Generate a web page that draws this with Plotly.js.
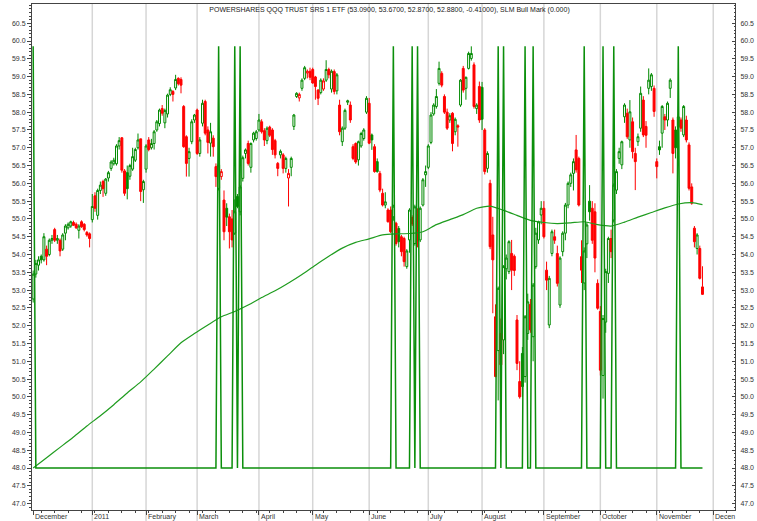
<!DOCTYPE html>
<html><head><meta charset="utf-8">
<script src="https://cdn.plot.ly/plotly-3.0.1.min.js"></script>
<style>html,body{margin:0;padding:0;background:#fff}#chart{width:757px;height:521px}</style>
</head><body><div id="chart"></div>
<script>
// Trading-day OHLC, Dec 1 2010 .. Nov 25 2011 (index = trading day)
const openP = [
// Dec 2010
52.75,53.45,53.70,53.95,53.85,54.15,54.00,54.40,54.70,54.40,54.40,54.15,54.60,54.75,54.80,54.90,54.85,54.68,54.92,54.85,54.62,54.58,
// Jan
54.98,55.65,55.10,55.80,56.05,55.72,56.15,56.42,56.55,56.55,57.05,57.28,56.35,56.30,56.20,56.40,56.65,57.00,57.25,55.82,
// Feb
56.40,57.22,57.00,57.12,57.50,57.68,58.10,57.70,57.95,58.50,58.58,58.68,58.95,58.92,58.16,57.31,56.70,57.17,57.78,
// Mar
58.06,56.84,57.69,58.30,57.50,57.13,57.27,56.47,55.86,56.19,55.53,55.30,55.06,55.00,54.60,55.63,55.20,56.14,56.84,57.12,56.45,57.22,57.26,
// Apr
57.50,57.73,57.48,57.20,57.58,57.50,57.20,56.56,56.80,56.80,56.42,56.15,56.45,57.60,58.44,58.40,58.67,58.95,59.10,59.15,
// May
59.20,58.99,58.62,58.55,58.65,58.90,59.20,58.65,59.14,58.60,58.20,57.17,57.55,58.28,58.20,57.03,57.12,56.66,57.05,57.26,58.00,
// Jun
58.25,57.36,57.03,56.61,56.28,55.72,55.39,55.25,55.25,55.06,54.88,54.73,54.50,54.45,53.66,54.41,55.04,54.31,55.16,54.41,55.39,56.24,
// Jul
56.45,57.15,57.95,58.16,58.81,59.09,58.44,58.00,57.78,57.97,57.45,57.62,58.20,59.23,58.67,59.23,59.51,59.33,58.10,58.72,
// Aug
58.70,57.50,56.42,56.00,54.55,52.25,51.30,51.78,51.60,53.60,53.52,54.03,53.95,52.16,50.43,51.22,50.57,51.78,52.60,51.69,53.66,54.41,55.11,
// Sep
55.30,53.56,52.02,54.03,54.50,54.03,52.58,54.08,54.60,55.39,56.00,56.28,56.94,56.70,53.94,53.20,54.30,55.50,55.30,55.20,53.19,
// Oct
52.40,50.60,52.10,53.47,54.45,54.97,55.81,56.70,56.52,57.87,57.97,57.22,57.73,56.84,57.17,57.55,58.34,57.60,58.67,58.72,58.67,
// Nov
56.61,57.03,57.41,57.87,57.78,58.67,57.78,57.50,57.59,57.78,57.36,57.78,57.08,55.90,54.74,54.17,54.17,53.09
];
const highP = [
53.55,53.85,53.95,54.00,54.60,54.25,54.45,54.55,54.75,54.55,54.45,54.60,54.85,54.90,54.95,54.95,54.90,54.85,54.96,54.88,54.66,54.62,
55.70,55.75,55.85,56.05,56.10,56.15,56.35,56.65,56.72,57.10,57.30,57.30,56.40,56.50,56.55,57.00,57.00,57.40,57.25,56.10,
57.10,57.30,57.25,57.50,57.78,58.10,58.20,58.10,58.52,58.70,58.62,59.05,58.98,58.98,58.20,57.35,57.00,57.80,57.95,
58.10,57.30,58.35,58.35,57.60,57.70,57.35,56.56,56.60,56.40,55.80,55.44,55.15,55.25,55.55,55.70,55.95,56.78,56.98,57.20,57.15,57.45,57.50,
57.95,57.80,57.55,57.60,57.62,57.55,57.25,56.60,56.95,56.85,56.75,56.40,56.75,57.95,58.56,58.55,58.95,59.30,59.20,59.25,
59.25,59.02,58.65,58.95,58.95,59.46,59.25,59.20,59.20,59.10,58.35,57.60,58.10,58.35,58.30,57.10,57.15,57.20,57.45,57.55,58.45,
58.40,57.40,57.10,56.70,56.35,55.85,55.75,55.30,55.35,55.40,54.92,54.80,54.55,54.50,54.15,55.30,55.10,55.40,55.30,55.35,56.15,56.50,
57.10,58.00,58.25,58.65,59.42,59.15,58.50,58.10,57.97,58.00,57.85,57.66,58.93,59.30,59.00,59.70,59.85,59.40,58.25,58.86,
58.85,57.55,56.90,56.10,55.06,52.60,53.10,52.20,53.70,54.00,54.40,54.41,54.00,52.30,51.00,51.40,52.30,52.90,52.75,53.20,54.75,54.95,55.50,
55.50,53.80,53.40,54.70,54.70,54.25,53.95,54.65,55.45,56.05,56.30,56.70,57.36,56.75,54.40,54.20,54.90,55.95,55.50,55.44,53.30,
52.55,52.30,53.60,54.50,54.70,56.00,56.40,57.00,57.20,58.25,58.10,58.34,57.85,57.00,57.40,58.72,58.45,57.75,59.23,59.10,58.75,
56.70,57.20,58.20,57.95,58.30,58.95,57.85,57.60,57.95,57.85,58.20,57.90,57.15,56.00,54.80,54.60,54.25,53.67
];
const lowP = [
52.65,53.35,53.55,53.75,53.80,53.70,53.95,54.30,54.35,54.30,53.95,54.10,54.40,54.70,54.75,54.80,54.72,54.45,54.75,54.65,54.50,54.20,
54.90,55.20,54.98,55.70,55.62,55.65,56.05,56.35,56.50,56.50,56.95,56.30,55.65,55.55,56.10,56.35,56.60,56.95,55.50,55.45,
56.30,56.90,56.95,56.95,57.45,57.60,57.90,57.55,57.85,58.45,58.30,58.62,58.75,58.53,57.00,56.19,56.19,57.10,57.70,
56.80,56.75,57.60,57.35,56.84,56.75,56.75,55.90,55.80,56.10,54.40,54.80,54.17,54.20,54.55,55.30,55.10,56.05,56.70,56.50,56.30,57.15,57.20,
57.45,57.40,57.05,57.10,57.30,56.80,56.70,56.20,56.70,56.28,56.30,55.35,56.20,57.50,58.40,58.30,58.60,58.90,58.95,58.90,
58.80,58.35,58.20,58.50,58.60,58.85,58.95,58.55,58.50,58.50,57.35,57.05,57.50,58.20,57.70,56.65,56.55,56.50,57.00,57.20,57.95,
57.10,56.94,56.30,56.30,55.75,55.35,55.30,54.90,54.60,54.95,54.25,54.20,53.95,53.66,53.60,54.05,54.80,54.25,54.20,54.35,55.35,55.90,
56.40,57.10,57.90,58.10,58.75,58.70,57.95,57.50,57.70,56.90,57.35,57.03,58.15,58.55,58.35,59.20,59.45,58.10,57.95,57.70,
57.50,56.25,56.30,54.15,52.35,50.55,49.90,50.70,51.20,53.30,53.45,53.00,53.40,50.75,49.95,50.00,50.40,51.60,51.80,51.00,53.60,54.30,54.85,
54.45,53.00,51.93,53.95,54.30,53.10,52.50,53.95,54.40,55.30,55.90,55.80,56.30,55.35,53.20,53.00,53.90,54.95,54.30,53.50,52.45,
50.60,49.95,51.80,53.20,53.90,54.90,55.70,56.55,56.40,57.70,57.25,57.00,56.70,55.81,57.05,57.45,57.30,57.00,58.50,58.60,57.87,
56.14,56.80,57.00,57.50,57.60,58.40,56.28,56.70,57.50,57.45,57.30,57.15,55.80,55.40,54.20,54.00,53.30,52.87
];
const closeP = [
53.45,53.75,53.85,53.85,54.50,53.95,54.40,54.45,54.40,54.45,54.10,54.55,54.80,54.85,54.92,54.82,54.75,54.80,54.78,54.70,54.55,54.45,
55.35,55.30,55.80,55.95,55.85,56.12,56.30,56.60,56.65,57.05,57.20,56.37,55.72,55.85,56.50,56.75,56.95,57.22,55.77,56.05,
57.05,56.95,57.12,57.45,57.73,58.06,57.97,58.05,58.48,58.63,58.50,58.92,58.80,58.76,57.03,56.56,56.89,57.73,57.92,
56.84,57.22,58.25,57.41,57.15,57.45,57.03,56.19,56.52,56.33,54.64,55.05,54.64,54.41,55.20,55.35,55.90,56.72,56.94,56.56,57.12,57.41,57.45,
57.78,57.45,57.22,57.55,57.35,56.95,56.80,56.42,56.90,56.42,56.70,56.28,56.70,57.92,58.53,58.50,58.90,59.25,59.15,58.98,
58.82,58.72,58.39,58.90,58.88,59.20,59.05,59.15,58.58,59.05,57.45,57.55,58.05,58.32,57.78,56.70,56.60,57.17,57.40,57.50,58.39,
57.13,57.22,56.33,56.33,55.81,55.39,55.48,54.92,54.64,55.36,54.31,54.36,54.08,53.80,54.10,55.25,54.86,55.34,54.41,55.30,56.10,56.33,
57.05,57.92,58.20,58.44,59.23,58.76,58.00,57.55,57.90,57.12,57.80,57.58,58.90,58.62,58.98,59.65,59.65,58.16,58.20,57.78,
57.80,56.33,56.84,54.22,53.85,50.57,53.05,50.90,53.66,53.90,54.36,53.56,53.55,50.94,50.00,50.29,52.25,52.67,51.88,53.14,54.60,54.92,55.30,
54.50,53.28,53.33,54.64,54.40,53.19,53.90,54.60,55.39,56.00,56.24,56.61,56.38,55.39,53.56,54.10,54.83,55.20,54.40,53.90,52.49,
50.75,52.20,53.52,54.45,54.08,55.95,56.33,56.89,57.17,58.20,57.31,58.01,56.89,56.61,57.31,58.53,57.36,57.35,58.90,59.05,58.02,
56.47,56.94,58.16,57.78,58.25,58.90,56.84,57.00,57.87,57.55,58.16,57.22,55.86,55.44,54.36,54.55,53.33,52.88
];

// long moving average, read every 5 trading days
const maIdx = [0,5,10,15,20,25,30,35,40,45,50,55,60,65,70,75,80,85,90,95,100,105,110,115,120,125,130,135,140,145,150,155,160,165,170,175,180,185,190,195,200,205,210,215,220,225,230,235,240,245,249];
const maVal = [48.00,48.29,48.58,48.87,49.18,49.47,49.78,50.11,50.42,50.78,51.15,51.52,51.78,52.02,52.25,52.40,52.58,52.79,52.98,53.20,53.44,53.70,53.95,54.18,54.34,54.44,54.55,54.58,54.59,54.64,54.84,54.98,55.12,55.30,55.36,55.24,55.10,54.96,54.90,54.87,54.89,54.92,54.84,54.80,54.91,55.05,55.18,55.31,55.42,55.46,55.40];

// SLM Bull Mark signal (turning points)
const sigIdx = [0,1,68,69,70,74,75,76,77,78,133,134,135,140,141,142,143,144,172,173,174,175,176,182,183,184,185,186,187,204,205,206,211,212,213,215,216,217,239,240,241,249];
const sigVal = [59.85,48,48,59.85,48,48,59.85,48,59.85,48,48,59.85,48,48,59.85,48,59.85,48,48,59.85,48,59.85,48,48,59.85,48,48,59.85,48,48,59.85,48,48,59.85,48,48,59.85,48,48,59.85,48,48];

// month axis
const monthIdx = [0,22,42,61,84,104,125,147,167,190,211,232,253];
const monthLabels = ["December","2011","February","March","April","May","June","July","August","September","October","November","Decen"];
const yTicks = [47.0,47.5,48.0,48.5,49.0,49.5,50.0,50.5,51.0,51.5,52.0,52.5,53.0,53.5,54.0,54.5,55.0,55.5,56.0,56.5,57.0,57.5,58.0,58.5,59.0,59.5,60.0,60.5];

const titleText = "POWERSHARES QQQ TRUST SRS 1 ETF (53.0900, 53.6700, 52.8700, 52.8800, -0.41000), SLM Bull Mark (0.000)";

const GREEN = '#008a00', RED = '#ff0000';
const FONT = 'Liberation Sans, Arial, sans-serif';

function pick(pred) {
  const ix = [];
  for (let i = 0; i < closeP.length; i++) if (pred(i)) ix.push(i);
  return ix;
}
const prevC = i => (i === 0 ? openP[0] : closeP[i - 1]);
function candle(ix, color, hollow) {
  const style = {line: {color: color, width: 1}, fillcolor: hollow ? '#ffffff' : color};
  return {
    type: 'candlestick', x: ix,
    open: ix.map(i => openP[i]), high: ix.map(i => highP[i]),
    low: ix.map(i => lowP[i]), close: ix.map(i => closeP[i]),
    increasing: style, decreasing: style, whiskerwidth: 0,
    hoverinfo: 'skip', showlegend: false
  };
}
const traces = [
  candle(pick(i => closeP[i] >= openP[i] && closeP[i] >= prevC(i)), GREEN, true),
  candle(pick(i => closeP[i] < openP[i] && closeP[i] >= prevC(i)), GREEN, false),
  candle(pick(i => closeP[i] >= openP[i] && closeP[i] < prevC(i)), RED, true),
  candle(pick(i => closeP[i] < openP[i] && closeP[i] < prevC(i)), RED, false),
  {type: 'scatter', mode: 'lines', x: maIdx, y: maVal, yaxis: 'y2', line: {color: '#1f9c1f', width: 1.2, shape: 'spline', smoothing: 0.6},
   hoverinfo: 'skip', showlegend: false},
  {type: 'scatter', mode: 'lines', x: sigIdx, y: sigVal, yaxis: 'y2',
   line: {color: '#0b8f0b', width: 1.5}, hoverinfo: 'skip', showlegend: false}
];

const yRange = [46.82, 61.04];
const shapes = monthIdx.slice(1).map(m => ({
  type: 'line', layer: 'below', xref: 'x', yref: 'paper', x0: m, x1: m, y0: -0.04, y1: 1,
  line: {color: '#d6d6d6', width: 1.5}
}));
const annotations = monthIdx.map((m, k) => ({
  x: m, xref: 'x', y: 0, yref: 'paper', xanchor: 'left', yanchor: 'top',
  text: monthLabels[k], showarrow: false, yshift: -1, xshift: 0,
  font: {family: FONT, size: 7, color: '#333'}
}));

const axisFont = {family: FONT, size: 7, color: '#333'};
const layout = {
  width: 757, height: 521,
  margin: {l: 32, r: 22, t: 4, b: 11, pad: 0},
  paper_bgcolor: '#ffffff', plot_bgcolor: '#ffffff',
  showlegend: false, boxgap: 0.15, boxgroupgap: 0.15,
  title: {text: titleText, font: {family: FONT, size: 7, color: '#222'},
          x: 0.5086, xanchor: 'center', y: 1 - 10 / 521, yanchor: 'middle', xref: 'paper', yref: 'container'},
  xaxis: {range: [-0.43, 261.1], showgrid: false, zeroline: false,
          showline: true, linecolor: '#444', linewidth: 1, mirror: true,
          tickmode: 'array', tickvals: monthIdx, showticklabels: false,
          ticks: 'outside', ticklen: 4, tickcolor: '#444',
          minor: {ticks: 'outside', ticklen: 2, tickcolor: '#444', dtick: 5, tick0: 3, showgrid: false},
          rangeslider: {visible: false}, fixedrange: true},
  yaxis: {range: yRange, tickmode: 'array', tickvals: yTicks, ticktext: yTicks.map(v => v.toFixed(1)),
          ticks: 'outside', ticklen: 4, tickcolor: '#444', showline: true, linecolor: '#444',
          showgrid: false, zeroline: false, tickfont: axisFont, fixedrange: true,
          minor: {ticks: 'outside', ticklen: 2, tickcolor: '#444', dtick: 0.1, tick0: 47, showgrid: false}},
  yaxis2: {range: yRange, overlaying: 'y', side: 'right', tickmode: 'array', tickvals: yTicks,
           ticktext: yTicks.map(v => v.toFixed(1)), ticks: 'inside', ticklen: 3, tickcolor: '#444',
           showline: true, linecolor: '#444', showgrid: false, zeroline: false, tickfont: axisFont,
           ticklabelstandoff: 3, fixedrange: true,
           minor: {ticks: 'inside', ticklen: 1.5, tickcolor: '#444', dtick: 0.1, tick0: 47, showgrid: false}},
  shapes: shapes,
  annotations: annotations
};
Plotly.newPlot('chart', traces, layout, {staticPlot: true, displayModeBar: false});
</script>
</body></html>
